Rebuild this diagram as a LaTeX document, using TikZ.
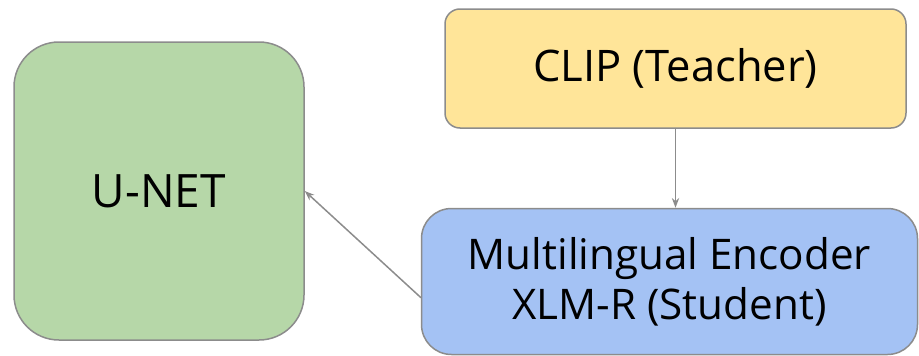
\documentclass[tikz,border=0pt]{standalone}
\usepackage{fontspec}
\setmainfont{Open Sans}
\usetikzlibrary{arrows.meta}
\definecolor{unetgreen}{HTML}{B6D7A8}
\definecolor{clipyellow}{HTML}{FFE599}
\definecolor{encblue}{HTML}{A4C2F4}
\definecolor{edgegray}{HTML}{8C8C8C}
\begin{document}
\begin{tikzpicture}[x=1pt,y=1pt,>=Stealth,line cap=round,
			block/.style={draw=edgegray,line width=1.5pt,align=center,inner sep=0pt},
			link/.style={draw=edgegray,line width=1.5pt,->}]
			\useasboundingbox (0,0) rectangle (919,-356);
			% boxes
			\node[block,fill=unetgreen,minimum width=290pt,minimum height=298pt,rounded corners=45pt,
				font=\fontsize{46}{50}\selectfont] (unet) at (159,-191) {U-NET};
			\node[block,fill=clipyellow,minimum width=461pt,minimum height=119pt,rounded corners=15pt,
				font=\fontsize{43.5}{50}\selectfont] (clip) at (675.5,-68.5) {CLIP (Teacher)};
			\node[block,fill=encblue,minimum width=496pt,minimum height=146pt,rounded corners=30pt,
				font=\fontsize{42.2}{50}\selectfont] (enc) at (669.5,-281.5) {Multilingual Encoder\\XLM-R (Student)};
			% arrows
			\draw[link] (clip.south) -- (clip.south |- enc.north);
			\draw[link] ([yshift=-16pt]enc.west) -- (unet.east);
		\end{tikzpicture}
\end{document}
